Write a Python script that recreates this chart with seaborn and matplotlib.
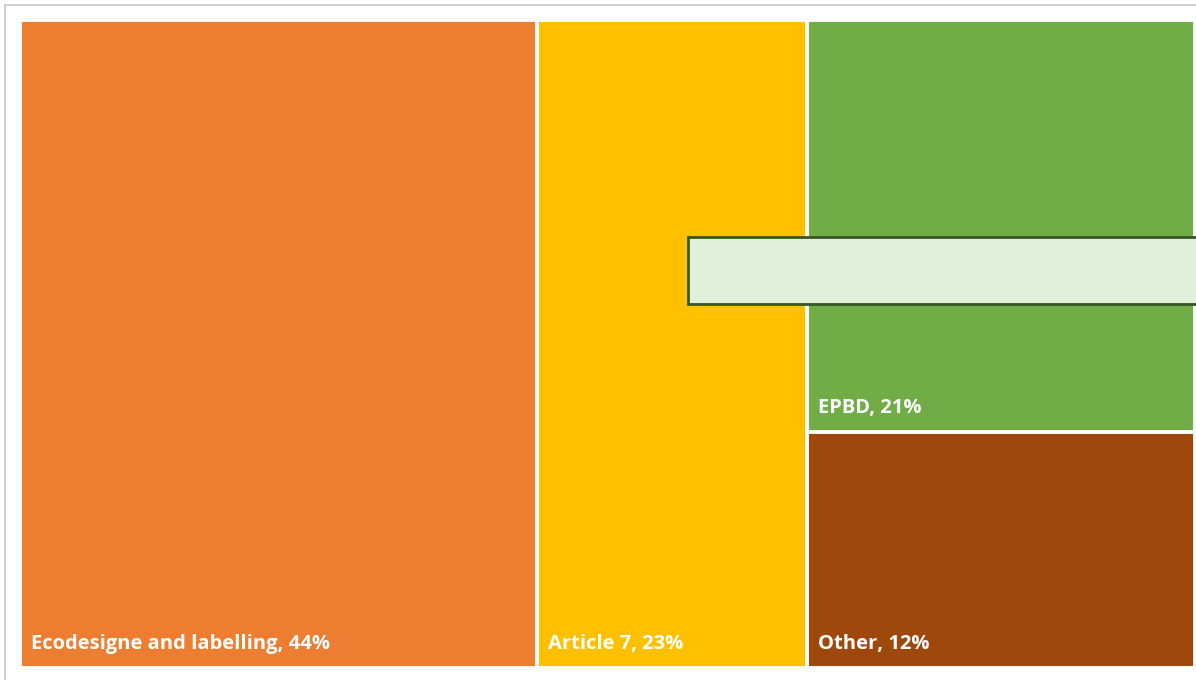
import numpy as np
import pandas as pd
import seaborn as sns
import matplotlib.pyplot as plt
from matplotlib.patches import Rectangle

categories = ["Ecodesigne and labelling", "Article 7", "EPBD", "Other"]
shares = [44, 23, 21, 12]
colors = ["#ED7D31", "#FFC000", "#70AD47", "#9E480E"]
# tiles in the last column are stacked, the others sit side by side
stacked = ["EPBD", "Other"]

sns.set_theme(style="white")
plt.rcParams["font.family"] = ["Open Sans", "DejaVu Sans"]


def slice_and_dice(df):
    # x/width from the share of each column, y/height inside the stacked column
    rows = []
    x0 = 0.0
    col_total = df.loc[df["category"].isin(stacked), "share"].sum()
    total = df["share"].sum()
    for _, r in df[~df["category"].isin(stacked)].iterrows():
        w = r["share"] / total * 100
        rows.append((r["category"], x0, w, 0.0, 100.0))
        x0 += w
    w = col_total / total * 100
    top = 100.0
    for _, r in df[df["category"].isin(stacked)].iterrows():
        h = r["share"] / col_total * 100
        rows.append((r["category"], x0, w, top - h, h))
        top -= h
    return pd.DataFrame(rows, columns=["category", "x", "w", "y", "h"])


df = pd.DataFrame({"category": categories, "share": shares, "color": colors})
tiles = slice_and_dice(df).merge(df, on="category")

fig = plt.figure(figsize=(11.96, 6.8), dpi=100)
ax = fig.add_axes([20 / 1196, 12 / 680, 1175 / 1196, 648 / 680])

ax.bar(tiles["x"], tiles["h"], width=tiles["w"], bottom=tiles["y"], align="edge",
       color=tiles["color"], edgecolor="white", linewidth=2.8)

for _, t in tiles.iterrows():
    ax.annotate(f"{t['category']}, {t['share']}%", xy=(t["x"], t["y"]),
                xytext=(8, 10), textcoords="offset points",
                color="white", fontsize=14.5, fontweight="bold", va="bottom", ha="left")

ax.set_xlim(0, 100)
ax.set_ylim(0, 100)
ax.set_axis_off()

# light frame of the chart area, cut at the right and bottom
fig.patches.append(Rectangle((5 / 1196, -0.1), 1.2, (680 - 5) / 680 + 0.1,
                             transform=fig.transFigure, fill=False,
                             edgecolor="#C8C8C8", linewidth=1.2))

# empty title box lying over the tiles
fig.patches.append(Rectangle((688 / 1196, (680 - 304) / 680), 0.6, 67 / 680,
                             transform=fig.transFigure, facecolor="#E2EFDA",
                             edgecolor="#375623", linewidth=2, zorder=5))

fig.savefig("out.png", dpi=100)
